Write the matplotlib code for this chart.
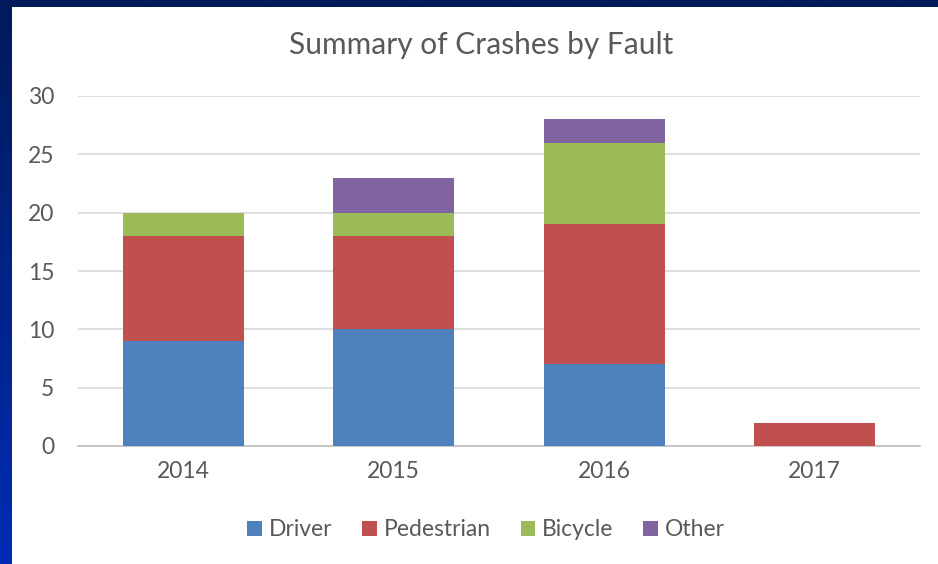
import matplotlib
matplotlib.use("Agg")
import matplotlib.pyplot as plt
import numpy as np
from matplotlib.patches import Rectangle

years = ["2014", "2015", "2016", "2017"]
series_names = ["Driver", "Pedestrian", "Bicycle", "Other"]
driver = [9, 10, 7, 0]
pedestrian = [9, 8, 12, 2]
bicycle = [2, 2, 7, 0]
other = [0, 3, 2, 0]
colors = ["#4f81bd", "#c0504d", "#9bbb59", "#8064a2"]

plt.rcParams['font.family'] = ['Lato', 'DejaVu Sans']
W, H = 938, 564
fig = plt.figure(figsize=(W/100, H/100), dpi=100)

# background gradient
bg = fig.add_axes([0, 0, 1, 1], zorder=-10)
bg.set_axis_off()
grad = np.linspace(0, 1, 256).reshape(-1, 1)
c_top = np.array([0x00, 0x1a, 0x5a]) / 255
c_bot = np.array([0x00, 0x2c, 0xb4]) / 255
img = c_top[None, None, :] * (1 - grad[:, :, None]) + c_bot[None, None, :] * grad[:, :, None]
bg.imshow(img, aspect='auto', extent=[0, 1, 0, 1], origin='upper')
bg.set_xlim(0, 1); bg.set_ylim(0, 1)
bg.add_patch(Rectangle((12/W, 0), 1, 1 - 7/H, facecolor='white', edgecolor='none'))

ax = fig.add_axes([78/W, 1 - 446/H, (920-78)/W, (446-96)/H])
ax.set_facecolor('none')
x = np.arange(len(years))
data = [driver, pedestrian, bicycle, other]
bottom = np.zeros(len(years))
for name, vals, col in zip(series_names, data, colors):
    ax.bar(x, vals, width=0.575, bottom=bottom, color=col, label=name, zorder=3)
    bottom += np.array(vals)

ax.set_xlim(-0.5, 3.5)
ax.set_ylim(0, 30)
ax.set_yticks(range(0, 31, 5))
ax.set_xticks(x)
ax.set_xticklabels(years)
ax.yaxis.grid(True, color='#d9d9d9', linewidth=1.2, zorder=0)
ax.set_axisbelow(True)
for s in ['top', 'right', 'left']:
    ax.spines[s].set_visible(False)
ax.spines['bottom'].set_color('#bfbfbf')
ax.spines['bottom'].set_linewidth(1.2)
ax.tick_params(axis='both', length=0, colors='#595959', labelsize=16.5)
ax.tick_params(axis='x', pad=11)
ax.tick_params(axis='y', pad=17)

fig.text(481/W, 1 - 45/H, "Summary of Crashes by Fault", ha='center', va='center',
         fontsize=21.5, color='#595959')

leg = fig.legend(loc='center', bbox_to_anchor=(486/W, 1 - 530/H), ncol=4, frameon=False,
                 fontsize=16.5, handlelength=0.65, handleheight=0.65,
                 handletextpad=0.3, columnspacing=1.3, labelcolor='#595959')

fig.savefig("out.png", dpi=100)
